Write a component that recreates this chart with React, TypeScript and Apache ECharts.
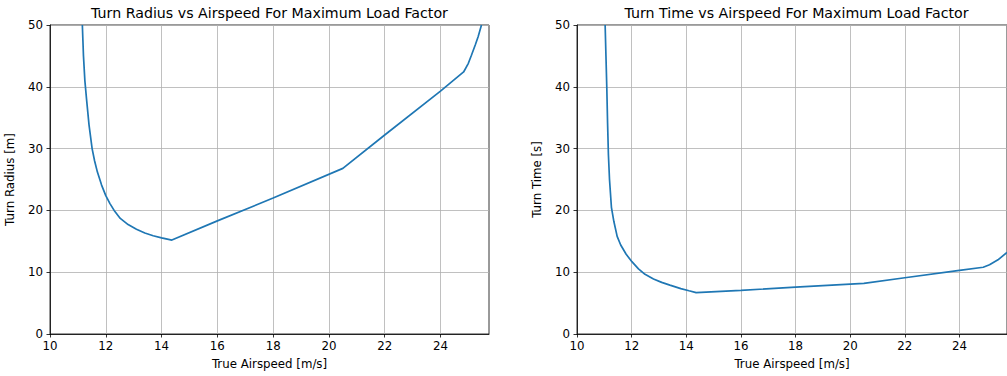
import React, { useEffect, useRef } from "react";
import * as echarts from "echarts";

const radiusSpeed = [11.16, 11.18, 11.2, 11.25, 11.31, 11.4, 11.51, 11.6, 11.7, 11.85, 12.0, 12.15, 12.3, 12.52, 12.8, 13.1, 13.4, 13.7, 14.0, 14.37, 16, 18, 20.5, 22, 24, 24.83, 25.0, 25.11, 25.25, 25.35, 25.47];
const radius = [50, 47.5, 45, 41, 38, 33.8, 30, 28, 26.2, 24.1, 22.4, 21.1, 20.0, 18.7, 17.7, 16.95, 16.35, 15.9, 15.55, 15.2, 18.3, 22.0, 26.8, 32.2, 39.3, 42.4, 43.8, 45.1, 46.8, 48.1, 50];

const timeSpeed = [11.03, 11.06, 11.09, 11.12, 11.15, 11.19, 11.26, 11.35, 11.47, 11.6, 11.8, 12.01, 12.25, 12.49, 12.8, 13.1, 13.4, 13.8, 14.1, 14.36, 16, 18, 20.5, 22, 24, 24.87, 25.1, 25.41, 25.74];
const turnTime = [50, 45, 40, 34, 29, 25, 20.5, 18.2, 15.8, 14.4, 12.9, 11.7, 10.55, 9.65, 8.9, 8.35, 7.9, 7.35, 7.0, 6.7, 7.05, 7.6, 8.2, 9.1, 10.3, 10.8, 11.2, 12.0, 13.2];

const xTicks = [10, 12, 14, 16, 18, 20, 22, 24];

const titles = ["Turn Radius vs Airspeed For Maximum Load Factor", "Turn Time vs Airspeed For Maximum Load Factor"];
const yNames = ["Turn Radius [m]", "Turn Time [s]"];
const xName = "True Airspeed [m/s]";

const FONT = "DejaVu Sans";

export default function App() {
  const ref = useRef<HTMLDivElement>(null);
  useEffect(() => {
    if (!ref.current) return;
    const chart = echarts.init(ref.current, undefined, { renderer: "svg" });
    const grids = [
      { left: 50, top: 25, width: 439, height: 309 },
      { left: 577, top: 25, width: 439, height: 309 },
    ];
    const textStyle = { fontFamily: FONT, color: "#000", fontSize: 11.8 };
    const xAxes = grids.map((_, i) => ({
      type: "value",
      gridIndex: i,
      min: 10,
      max: 25.74,
      interval: 2,
      name: xName,
      nameLocation: "middle",
      nameGap: 24,
      nameTextStyle: { ...textStyle },
      axisLine: { show: true, onZero: false, lineStyle: { color: "#000", width: 0.8 } },
      axisTick: { show: true, inside: false, length: 3.5, lineStyle: { color: "#000", width: 0.8 }, customValues: xTicks },
      axisLabel: { ...textStyle, margin: 6, customValues: xTicks },
      splitLine: { show: true, lineStyle: { color: "#b0b0b0", width: 0.8 } },
    }));
    const yAxes = grids.map((_, i) => ({
      type: "value",
      gridIndex: i,
      min: 0,
      max: 50,
      interval: 10,
      name: yNames[i],
      nameLocation: "middle",
      nameGap: 34,
      nameRotate: 90,
      nameTextStyle: { ...textStyle },
      axisLine: { show: true, onZero: false, lineStyle: { color: "#000", width: 0.8 } },
      axisTick: { show: true, inside: false, length: 3.5, lineStyle: { color: "#000", width: 0.8 } },
      axisLabel: { ...textStyle, margin: 7 },
      splitLine: { show: true, lineStyle: { color: "#b0b0b0", width: 0.8 } },
    }));
    const lineData = [
      radiusSpeed.map((v, k) => [v, radius[k]]),
      timeSpeed.map((v, k) => [v, turnTime[k]]),
    ];
    chart.setOption({
      animation: false,
      backgroundColor: "#fff",
      title: titles.map((t, i) => ({
        text: t,
        left: grids[i].left + grids[i].width / 2,
        top: 6,
        padding: 0,
        textAlign: "center",
        textStyle: { fontFamily: FONT, fontSize: 14.2, fontWeight: "normal", color: "#000" },
      })),
      grid: grids.map((g) => ({ ...g, show: true, borderColor: "#000", borderWidth: 0.8, backgroundColor: "transparent", containLabel: false })),
      xAxis: xAxes,
      yAxis: yAxes,
      series: lineData.map((d, i) => ({
        type: "line",
        xAxisIndex: i,
        yAxisIndex: i,
        data: d,
        showSymbol: false,
        symbol: "none",
        lineStyle: { color: "#1f77b4", width: 1.7 },
        clip: true,
      })),
    });
    return () => chart.dispose();
  }, []);
  return <div ref={ref} style={{ position: "fixed", left: 0, top: 0, width: 1007, height: 376 }} />;
}
